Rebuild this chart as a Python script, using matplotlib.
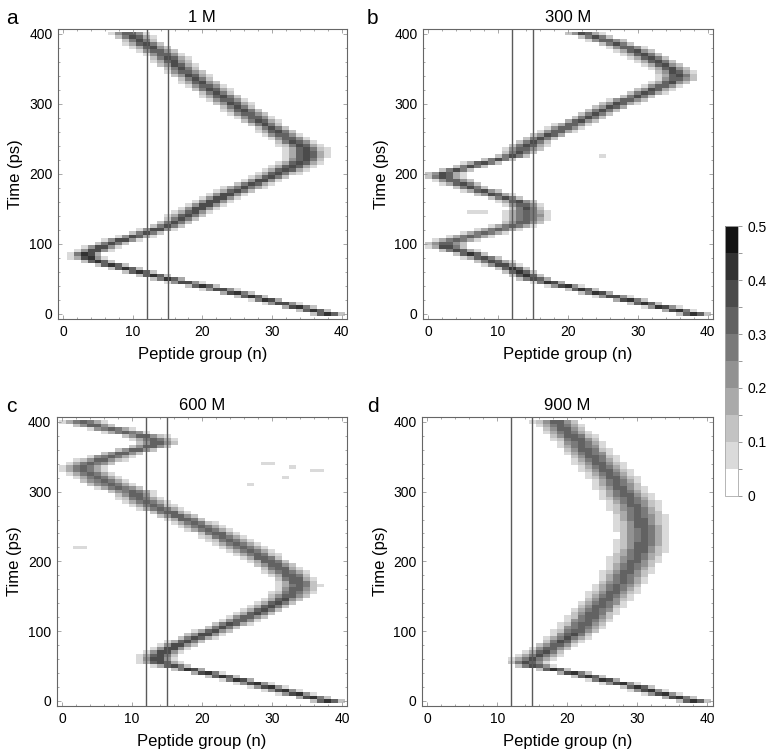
import numpy as np
import matplotlib
matplotlib.use('Agg')
import matplotlib.pyplot as plt
from matplotlib.colors import ListedColormap, BoundaryNorm
from matplotlib.ticker import MultipleLocator

plt.rcParams['font.family'] = ['Liberation Sans', 'DejaVu Sans']

# time rows (ps) and peptide groups
times = np.arange(0, 401, 5)
groups = np.arange(0, 41)

titles = ['1 M', '300 M', '600 M', '900 M']
letters = ['a', 'b', 'c', 'd']

# centre of the wave packet (peptide group) read every 5 ps, t = 0..400
center_a = [38, 36, 33.8, 31.5, 29.3, 27, 24.8, 22.5, 20, 17.5, 15.2, 13, 11, 9, 7, 5, 3.6, 3.3,
            4.5, 5.5, 7, 8.5, 10.3, 12, 13.5, 15, 16, 17, 17.8, 18.7, 19.5, 20.5, 21.5, 22.5,
            23.5, 24.7, 26, 27.3, 28.5, 29.7, 30.8, 32, 33, 34, 34.6, 35, 35, 34.8, 34.2, 33.3,
            32.5, 31.5, 30.8, 30, 29, 28.2, 27.5, 26.6, 25.8, 25, 24.3, 23.5, 22.8, 22, 21.2,
            20.5, 19.7, 19, 18.3, 17.6, 17, 16.3, 15.7, 15.1, 14.5, 13.6, 12.7, 11.8, 11, 10.2, 9.5]
center_b = [38, 35.7, 33.4, 31.1, 28.8, 26.5, 24.2, 21.9, 19.6, 17.3, 15.1, 14, 13, 12, 10.5,
            9.2, 7.8, 6, 4.2, 2.7, 2.5, 4, 6, 8, 10, 12, 13.5, 14, 14.2, 14, 14, 13.5, 12.7, 11,
            9.3, 7.7, 6, 4.8, 3.6, 2.2, 2.3, 4, 6, 7.9, 10, 12, 13, 13.6, 14.2, 15, 16, 17.2,
            18.4, 19.5, 20.6, 21.8, 23, 24, 25.1, 26.2, 27.3, 28.6, 30, 31.2, 32.3, 33.5, 34.7,
            35.6, 35.8, 35.3, 34.7, 33.7, 32.8, 31.8, 30.9, 29.7, 28.5, 27, 25.6, 24, 22.3]
center_c = [38, 35.8, 33.6, 31.6, 29.6, 27.6, 25.3, 23, 20.7, 18.2, 15.9, 14, 13.5, 13.7, 14.5,
            15.5, 16.6, 17.8, 19.1, 20.4, 21.7, 23, 24.2, 25.5, 26.6, 27.8, 28.9, 29.8, 30.8,
            31.7, 32.5, 33.1, 33.6, 33.9, 33.8, 33.3, 32.7, 32, 31.3, 30.5, 29.8, 28.8, 27.9,
            27, 26, 25, 24.1, 23.1, 22.2, 21, 20, 18.9, 17.8, 16.5, 15.2, 14, 12.9, 12, 11.1,
            10.4, 9.7, 8.2, 6.8, 5.8, 4.9, 3.9, 3, 3, 4.2, 5.4, 6.8, 8.5, 10.5, 12.5, 13.5, 13,
            11.6, 9.2, 6.8, 4.5, 3]
center_d = [38, 35.8, 33.6, 31.6, 29.9, 27.6, 25.3, 23, 20.8, 18, 15.3, 14.3, 15, 16, 16.8,
            17.6, 18.4, 19.2, 20, 20.7, 21.3, 21.8, 22.3, 22.8, 23.3, 23.7, 24.2, 24.7, 25.2,
            25.6, 26.1, 26.5, 26.9, 27.3, 27.7, 28, 28.3, 28.6, 28.9, 29.2, 29.5, 29.8, 30,
            30.3, 30.5, 30.7, 30.8, 30.9, 30.9, 30.8, 30.7, 30.5, 30.4, 30.2, 30, 29.8, 29.5,
            29.2, 28.8, 28.4, 28, 27.6, 27.2, 26.9, 26.5, 26.1, 25.6, 25.1, 24.6, 24.1, 23.7,
            23.2, 22.7, 22.2, 21.8, 21.3, 20.7, 20.1, 19.5, 19, 18.4]

# packet peak density and width (groups) for each 50 ps block
peak_a = [0.43, 0.42, 0.38, 0.37, 0.37, 0.36, 0.36, 0.36, 0.36]
width_a = [1.3, 1.3, 1.4, 1.5, 1.6, 1.5, 1.5, 1.5, 1.5]
peak_b = [0.43, 0.40, 0.33, 0.36, 0.36, 0.36, 0.36, 0.36, 0.36]
width_b = [1.3, 1.4, 1.8, 1.5, 1.5, 1.4, 1.5, 1.5, 1.5]
peak_c = [0.43, 0.38, 0.36, 0.35, 0.35, 0.35, 0.32, 0.33, 0.33]
width_c = [1.3, 1.5, 1.5, 1.6, 1.6, 1.6, 1.9, 1.8, 1.7]
peak_d = [0.43, 0.36, 0.33, 0.32, 0.32, 0.32, 0.32, 0.33, 0.33]
width_d = [1.3, 1.6, 1.8, 1.9, 2.0, 2.0, 1.9, 1.8, 1.8]

# isolated weak spots (time, group, density)
stray_b_t = [145, 145, 145, 225]
stray_b_n = [6, 7, 8, 25]
stray_b_v = [0.07, 0.08, 0.07, 0.06]
stray_c_t = [340, 340, 335, 330, 330, 320, 310, 220, 220]
stray_c_n = [29, 30, 33, 36, 37, 32, 27, 2, 3]
stray_c_v = [0.08, 0.08, 0.07, 0.07, 0.07, 0.06, 0.06, 0.07, 0.07]

centers = [center_a, center_b, center_c, center_d]
peaks = [peak_a, peak_b, peak_c, peak_d]
widths = [width_a, width_b, width_c, width_d]
strays = [([], [], []), (stray_b_t, stray_b_n, stray_b_v),
          (stray_c_t, stray_c_n, stray_c_v), ([], [], [])]

levels = np.arange(0, 0.55, 0.05)
grays = ['#ffffff', '#dadada', '#c3c3c3', '#aaaaaa', '#929292',
         '#7a7a7a', '#626262', '#4b4b4b', '#323232', '#131313']
cmap = ListedColormap(grays)
norm = BoundaryNorm(levels, cmap.N)

fig = plt.figure(figsize=(7.68, 7.56), dpi=100)
positions = [[0.0755, 0.578, 0.376, 0.384], [0.5508, 0.578, 0.3776, 0.384],
             [0.0740, 0.0661, 0.378, 0.3823], [0.5495, 0.0661, 0.3785, 0.3823]]
letter_xy = [(0.008, 0.975), (0.478, 0.975), (0.008, 0.462), (0.478, 0.462)]

x_edges = np.append(groups - 0.5, groups[-1] + 0.5)
t_edges = np.append(times - 2.5, times[-1] + 2.5)

for k in range(4):
    ax = fig.add_axes(positions[k])
    block = np.minimum(times // 50, 8)
    c = np.array(centers[k])[:, None]
    p = np.array(peaks[k])[block][:, None]
    s = np.array(widths[k])[block][:, None]
    dens = p * np.exp(-(groups[None, :] - c) ** 2 / (2 * s ** 2))
    st_t, st_n, st_v = strays[k]
    for tt, nn, vv in zip(st_t, st_n, st_v):
        dens[list(times).index(tt), nn] += vv
    dens = np.clip(dens, 0, 0.499)
    ax.pcolormesh(x_edges, t_edges, dens, cmap=cmap, norm=norm, shading='flat')

    ax.axvline(12, color='#5a5a5a', lw=1.0)
    ax.axvline(15, color='#5a5a5a', lw=1.0)

    ax.set_xlim(-0.75, 40.75)
    ax.set_ylim(-7.5, 407)
    ax.set_xticks([0, 10, 20, 30, 40])
    ax.set_yticks([0, 100, 200, 300, 400])
    ax.xaxis.set_minor_locator(MultipleLocator(2))
    ax.yaxis.set_minor_locator(MultipleLocator(20))
    ax.tick_params(which='both', direction='in', top=True, right=True,
                   color='#999999', width=0.6, labelsize=10, pad=4)
    ax.tick_params(which='major', length=3)
    ax.tick_params(which='minor', length=1.5)
    for sp in ax.spines.values():
        sp.set_color('#666666')
        sp.set_linewidth(0.8)

    ax.set_title(titles[k], fontsize=12, pad=5)
    ax.set_xlabel('Peptide group (n)', fontsize=12, labelpad=6)
    ax.set_ylabel('Time (ps)', fontsize=12, labelpad=4)
    fig.text(letter_xy[k][0], letter_xy[k][1], letters[k], fontsize=15, va='center')

# colour bar
cax = fig.add_axes([0.944, 0.344, 0.017, 0.357])
sm = plt.cm.ScalarMappable(cmap=cmap, norm=norm)
cb = fig.colorbar(sm, cax=cax, ticks=[0, 0.1, 0.2, 0.3, 0.4, 0.5])
cb.ax.set_yticklabels(['0', '0.1', '0.2', '0.3', '0.4', '0.5'])
cb.ax.yaxis.set_minor_locator(MultipleLocator(0.05))
cb.ax.tick_params(which='both', direction='out', color='#888888', width=0.6, labelsize=10)
cb.ax.tick_params(which='major', length=3)
cb.ax.tick_params(which='minor', length=3)
cb.outline.set_edgecolor('#aaaaaa')
cb.outline.set_linewidth(0.6)

fig.savefig('out.png', dpi=100)
